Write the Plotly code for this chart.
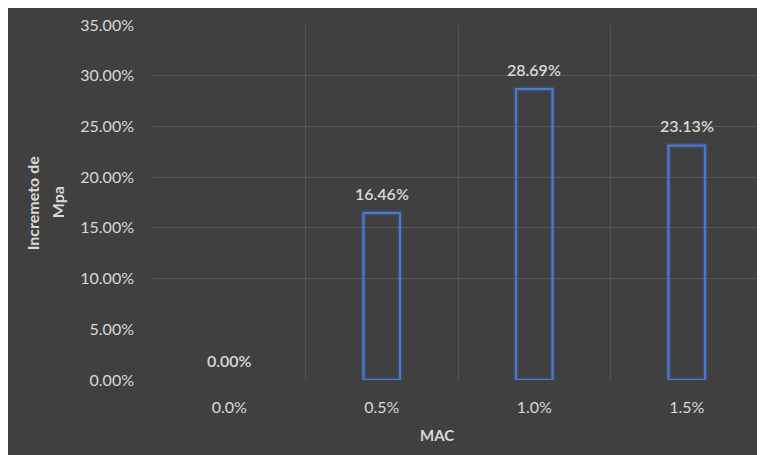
import plotly.graph_objects as go

categories = ["0.0%", "0.5%", "1.0%", "1.5%"]
values = [0.0, 16.46, 28.69, 23.13]
labels = ["0.00%", "16.46%", "28.69%", "23.13%"]
y_ticks = [0, 5, 10, 15, 20, 25, 30, 35]
y_ticktext = ["0.00%", "5.00%", "10.00%", "15.00%", "20.00%", "25.00%", "30.00%", "35.00%"]
grid_vals = [10, 15, 20, 25, 30, 35]
y_title_lines = ["Incremeto de", "Mpa"]
x_title = "MAC"

xpos = list(range(len(categories)))
BG = "#404040"
TXT = "#d9d9d9"
FONT = "Lato"

outline_w = [0 if v == 0 else 2 for v in values]
glow_w = [0 if v == 0 else 5 for v in values]

fig = go.Figure()
fig.add_trace(go.Bar(x=xpos, y=values, width=0.24, marker=dict(color="rgba(0,0,0,0)",
              line=dict(color="rgba(68,114,196,0.28)", width=glow_w)), hoverinfo="skip"))
fig.add_trace(go.Bar(x=xpos, y=values, width=0.24, marker=dict(color="rgba(0,0,0,0)",
              line=dict(color="#4a7bd0", width=outline_w))))

for xi, v, t in zip(xpos, values, labels):
    fig.add_annotation(x=xi, y=v, text=t, showarrow=False, yanchor="bottom", yshift=8,
                       font=dict(family=FONT, size=16, color=TXT, weight=600))

for xp, line in zip([-0.197, -0.156], y_title_lines):
    fig.add_annotation(xref="paper", yref="paper", x=xp, y=0.5, text="<b>%s</b>" % line,
                       textangle=-90, showarrow=False, xanchor="center", yanchor="middle",
                       font=dict(family=FONT, size=16, color=TXT))
fig.add_annotation(xref="paper", yref="paper", x=0.465, y=-0.155, text="<b>%s</b>" % x_title,
                   showarrow=False, xanchor="center", yanchor="middle",
                   font=dict(family=FONT, size=15, color=TXT))

fig.update_layout(
    width=756, height=447,
    paper_bgcolor=BG, plot_bgcolor=BG,
    margin=dict(l=145, r=1, t=17, b=75),
    showlegend=False, barmode="overlay",
    font=dict(family=FONT, color=TXT),
    xaxis=dict(range=[-0.5, 3.5], tickvals=xpos, ticktext=categories, showgrid=False,
               zeroline=False, showline=False, ticklabelstandoff=16,
               tickfont=dict(family=FONT, size=16, color=TXT),
               minor=dict(tickvals=[-0.5, 0.5, 1.5, 2.5, 3.5], showgrid=True,
                          gridcolor="#555555", gridwidth=1)),
    yaxis=dict(range=[0, 35], tickvals=y_ticks, ticktext=y_ticktext, showgrid=False,
               zeroline=False, showline=False, ticklabelstandoff=18,
               tickfont=dict(family=FONT, size=16, color=TXT),
               minor=dict(tickvals=grid_vals, showgrid=True, gridcolor="#585858", gridwidth=1)),
)

fig.write_html("out.html")
